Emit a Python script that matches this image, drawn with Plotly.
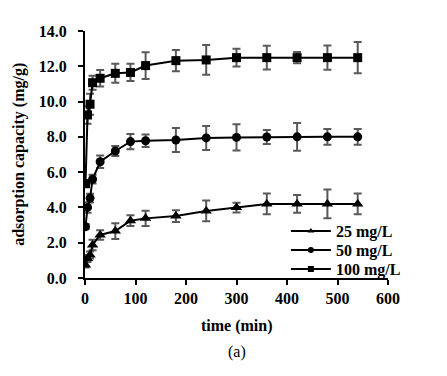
import plotly.graph_objects as go

time_min = [1, 5, 10, 15, 30, 60, 90, 120, 180, 240, 300, 360, 420, 480, 540]

q25 = [0.74, 1.11, 1.30, 1.87, 2.44, 2.66, 3.25, 3.38, 3.51, 3.80, 3.99, 4.20, 4.20, 4.20, 4.20]
e25 = [0.15, 0.20, 0.20, 0.30, 0.27, 0.45, 0.30, 0.43, 0.33, 0.59, 0.28, 0.59, 0.50, 0.81, 0.59]

q50 = [2.91, 4.00, 4.53, 5.60, 6.59, 7.20, 7.73, 7.78, 7.82, 7.94, 7.97, 7.99, 8.00, 8.00, 8.00]
e50 = [0.15, 0.30, 0.25, 0.25, 0.35, 0.28, 0.43, 0.36, 0.68, 0.68, 0.75, 0.40, 0.79, 0.45, 0.45]

q100 = [5.35, 9.24, 9.85, 11.07, 11.32, 11.60, 11.65, 12.04, 12.32, 12.36, 12.49, 12.49, 12.49, 12.49, 12.49]
e100 = [0.20, 0.50, 0.60, 0.40, 0.47, 0.54, 0.49, 0.76, 0.60, 0.84, 0.50, 0.67, 0.32, 0.69, 0.88]

series = [
    ("25 mg/L", q25, e25, "triangle-up", 10),
    ("50 mg/L", q50, e50, "circle", 9),
    ("100 mg/L", q100, e100, "square", 9),
]

FONT = "Liberation Serif"
fig = go.Figure()
for name, q, e, sym, sz in series:
    fig.add_trace(go.Scatter(
        x=time_min, y=q, name=name, mode="lines+markers", showlegend=False,
        line=dict(color="black", width=2),
        marker=dict(symbol=sym, size=sz, color="black"),
        error_y=dict(type="data", array=e, visible=True, color="#595959", thickness=2, width=4),
    ))
# legend entries (smaller markers as in the reference legend), one legend per row
legend_ids = ["legend", "legend2", "legend3"]
legend_y = [0.19, 0.113, 0.036]
for (name, q, e, sym, sz), lid in zip(series, legend_ids):
    fig.add_trace(go.Scatter(
        x=[None], y=[None], name=name, mode="lines+markers", legend=lid,
        line=dict(color="black", width=2),
        marker=dict(symbol=sym, size=6, color="black"),
    ))

leg_common = dict(x=0.663, xanchor="left", yanchor="middle", bgcolor="rgba(0,0,0,0)",
                  font=dict(family=FONT, size=16, color="black", weight="bold"),
                  itemwidth=40, itemclick=False, itemdoubleclick=False)

fig.update_layout(
    width=447, height=376,
    margin=dict(l=85, r=59, t=31, b=98),
    paper_bgcolor="white", plot_bgcolor="white",
    font=dict(family=FONT, size=16, color="black"),
    showlegend=True,
    legend=dict(y=legend_y[0], **leg_common),
    legend2=dict(y=legend_y[1], **leg_common),
    legend3=dict(y=legend_y[2], **leg_common),
    xaxis=dict(range=[0, 600], dtick=100, tick0=0, showgrid=False, zeroline=False,
               showline=True, linecolor="black", linewidth=2, automargin=False,
               ticks="outside", ticklen=5, tickwidth=2, tickcolor="black",
               tickfont=dict(family=FONT, size=16, color="black", weight="bold")),
    yaxis=dict(range=[0, 14], dtick=2, tick0=0, tickformat=".1f", showgrid=False, zeroline=False,
               showline=True, linecolor="black", linewidth=2, automargin=False,
               ticks="outside", ticklen=5, tickwidth=2, tickcolor="black", ticklabelstandoff=8,
               tickfont=dict(family=FONT, size=16, color="black", weight="bold")),
    annotations=[
        dict(text="<b>time (min)</b>", xref="paper", yref="paper", x=0.5, y=-0.195,
             xanchor="center", yanchor="middle", showarrow=False, font=dict(family=FONT, size=16)),
        dict(text="(a)", xref="paper", yref="paper", x=0.5, y=-0.3,
             xanchor="center", yanchor="middle", showarrow=False, font=dict(family=FONT, size=16)),
        dict(text="<b>adsorption capacity (mg/g)</b>", xref="paper", yref="paper", x=-0.22, y=0.5,
             xanchor="center", yanchor="middle", textangle=-90, showarrow=False,
             font=dict(family=FONT, size=16)),
    ],
)

fig.write_html("out.html", config={"displayModeBar": False},
               post_script="document.body.style.margin='0';")
